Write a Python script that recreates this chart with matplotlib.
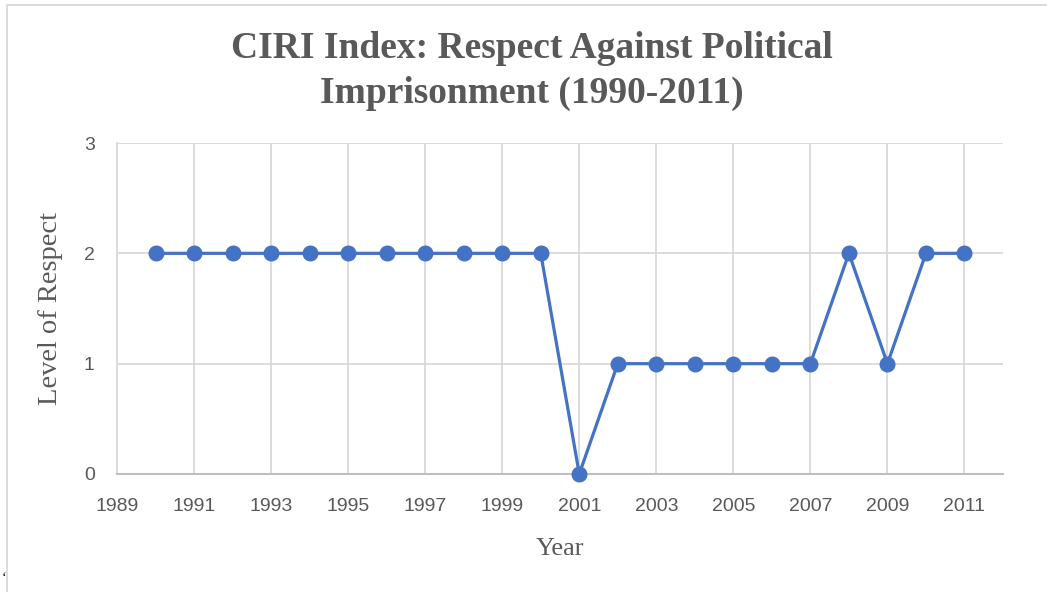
import numpy as np
import matplotlib
matplotlib.use("Agg")
import matplotlib.pyplot as plt
from matplotlib.lines import Line2D

years = [1990, 1991, 1992, 1993, 1994, 1995, 1996, 1997, 1998, 1999, 2000,
         2001, 2002, 2003, 2004, 2005, 2006, 2007, 2008, 2009, 2010, 2011]
respect = [2, 2, 2, 2, 2, 2, 2, 2, 2, 2, 2,
           0, 1, 1, 1, 1, 1, 1, 2, 1, 2, 2]
xticks = list(range(1989, 2012, 2))
yticks = [0, 1, 2, 3]

grey_text = "#595959"
grid_col = "#D9D9D9"
blue = "#4472C4"

fig = plt.figure(figsize=(10.47, 5.92), dpi=100)
ax = fig.add_axes([117 / 1047, 1 - 474 / 592, 886 / 1047, 331 / 592])

ax.plot(years, respect, color=blue, linewidth=2.3, marker="o", markersize=10.5,
        zorder=3, clip_on=False)

ax.set_xlim(1989, 2012)
ax.set_ylim(0, 3)
ax.set_xticks(xticks)
ax.set_yticks(yticks)
ax.grid(True, color=grid_col, linewidth=1.3)
ax.set_axisbelow(True)
ax.tick_params(length=0, labelcolor=grey_text, labelsize=14)
ax.tick_params(axis="x", pad=17)
ax.tick_params(axis="y", pad=16)
for lab in ax.get_xticklabels() + ax.get_yticklabels():
    lab.set_family("Liberation Sans")

for s in ["top", "right"]:
    ax.spines[s].set_visible(False)
ax.spines["left"].set_color(grid_col)
ax.spines["left"].set_linewidth(1.3)
ax.spines["bottom"].set_color("#BFBFBF")
ax.spines["bottom"].set_linewidth(1.5)

ax.set_xlabel("Year", family="Liberation Serif", fontsize=19, color=grey_text, labelpad=17)
ax.set_ylabel("Level of Respect", family="Liberation Serif", fontsize=20.5, color=grey_text, labelpad=15)

fig.text(532 / 1047, 1 - 71 / 592, "CIRI Index: Respect Against Political\nImprisonment (1990-2011)",
         ha="center", va="center", family="Liberation Serif", fontweight="bold",
         fontsize=27, color=grey_text, linespacing=1.35)

# outer chart border (top and left visible)
fig.add_artist(Line2D([7 / 1047, 7 / 1047, 1.0], [0.0, 1 - 5 / 592, 1 - 5 / 592],
                      transform=fig.transFigure, color=grid_col, linewidth=1.3))
fig.text(2 / 1047, 1 - 578 / 592, "\u2018", fontsize=10, color="black",
         family="Liberation Serif", ha="left", va="center")

fig.savefig("out.png", dpi=100)
